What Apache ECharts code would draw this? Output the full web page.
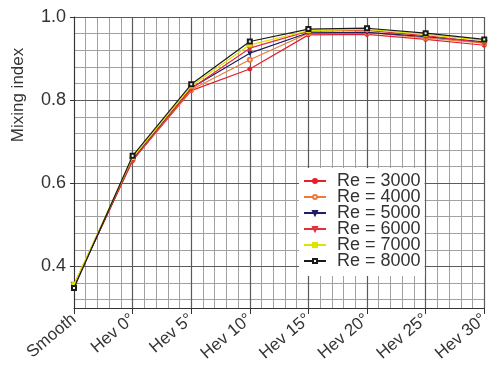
<!DOCTYPE html>
<html><head><meta charset="utf-8">
<script src="https://cdn.jsdelivr.net/npm/echarts@6/dist/echarts.min.js"></script>
<style>html,body{margin:0;padding:0;background:#fff}#c{width:492px;height:367px}</style>
</head><body><div id="c"></div>
<script>
var categories = ['Smooth','Hev 0°','Hev 5°','Hev 10°','Hev 15°','Hev 20°','Hev 25°','Hev 30°'];
var seriesNames = ['Re = 3000','Re = 4000','Re = 5000','Re = 6000','Re = 7000','Re = 8000'];
var re3000 = [0.355, 0.655, 0.823, 0.875, 0.957, 0.958, 0.946, 0.932];
var re4000 = [0.355, 0.656, 0.825, 0.897, 0.961, 0.963, 0.950, 0.937];
var re5000 = [0.352, 0.658, 0.829, 0.913, 0.962, 0.963, 0.953, 0.940];
var re6000 = [0.356, 0.655, 0.828, 0.925, 0.966, 0.968, 0.955, 0.938];
var re7000 = [0.357, 0.662, 0.834, 0.933, 0.967, 0.970, 0.958, 0.944];
var re8000 = [0.348, 0.666, 0.838, 0.941, 0.971, 0.973, 0.961, 0.946];
var yMajorTicks = [0.4, 0.6, 0.8, 1.0];
var yMinorTicks = [0.32, 0.36, 0.44, 0.48, 0.52, 0.56, 0.64, 0.68, 0.72, 0.76, 0.84, 0.88, 0.92, 0.96];

var values = [re3000, re4000, re5000, re6000, re7000, re8000];
var colors = ['#e3202c', '#ee7a3a', '#1e1e64', '#e0303e', '#e2e200', '#1a1a1a'];
var symbols = ['circle', 'emptyCircle', 'triangle', 'emptyTriangle', 'rect', 'emptyRect'];
var symRot = [0, 0, 180, 180, 0, 0];
var font = '"Liberation Sans", Arial, sans-serif';

var series = values.map(function (v, i) {
  return {
    name: seriesNames[i], type: 'line', data: v,
    xAxisIndex: 0, yAxisIndex: 0,
    symbol: symbols[i], symbolSize: 4, symbolRotate: symRot[i],
    lineStyle: { color: colors[i], width: 1.2 },
    itemStyle: { color: colors[i], borderColor: colors[i], borderWidth: 1 },
    emphasis: { disabled: true }, animation: false, z: 3 + i
  };
});

var chart = echarts.init(document.getElementById('c'), null, { renderer: 'canvas' });
chart.setOption({
  backgroundColor: '#fff',
  animation: false,
  grid: { left: 74, right: 1, top: 17, bottom: 59, containLabel: false },
  xAxis: [
    {
      type: 'category', data: categories, boundaryGap: false,
      axisLine: { show: true, lineStyle: { color: '#333', width: 1 } },
      axisTick: { show: true, length: 6, lineStyle: { color: '#333' } },
      axisLabel: { rotate: 40, fontSize: 17, color: '#333', fontFamily: font, margin: 9, interval: 0 },
      splitLine: { show: true, lineStyle: { color: '#5a5a5a', width: 1.2 } },
      z: 2
    },
    {
      type: 'value', min: 0, max: 7, interval: 0.2, show: true, position: 'bottom',
      axisLine: { show: false }, axisTick: { show: false }, axisLabel: { show: false },
      splitLine: { show: true, lineStyle: { color: '#a0a0a0', width: 1 } },
      z: 1
    }
  ],
  yAxis: [
    {
      type: 'value', min: 0.3, max: 1.0,
      axisLine: { show: true, lineStyle: { color: '#333', width: 1 } },
      axisTick: { show: true, length: 4, inside: false, customValues: yMajorTicks, lineStyle: { color: '#333' } },
      axisLabel: { fontSize: 18, color: '#333', fontFamily: font, margin: 8, customValues: yMajorTicks,
        formatter: function (v) { return v.toFixed(1); } },
      splitLine: { show: true, lineStyle: { color: '#5a5a5a', width: 1.2 } },
      z: 2
    },
    {
      type: 'value', min: 0.3, max: 1.0,
      axisLine: { show: false },
      axisTick: { show: false, customValues: yMinorTicks },
      axisLabel: { show: false, customValues: yMinorTicks },
      splitLine: { show: true, lineStyle: { color: '#a0a0a0', width: 1 } },
      z: 1
    }
  ],
  legend: {
    show: true, orient: 'vertical', left: 299, top: 168,
    backgroundColor: '#fff', padding: [4, 4, 6, 4],
    itemGap: -2, itemWidth: 22, itemHeight: 5,
    textStyle: { fontSize: 18, color: '#333', fontFamily: font, padding: [0, 0, 0, 6] },
    data: seriesNames
  },
  graphic: [{
    type: 'text', x: 18, y: 95, rotation: Math.PI / 2,
    style: { text: 'Mixing index', font: '17px ' + font, fill: '#333', align: 'center', verticalAlign: 'middle' }
  }],
  series: series
});
</script></body></html>
